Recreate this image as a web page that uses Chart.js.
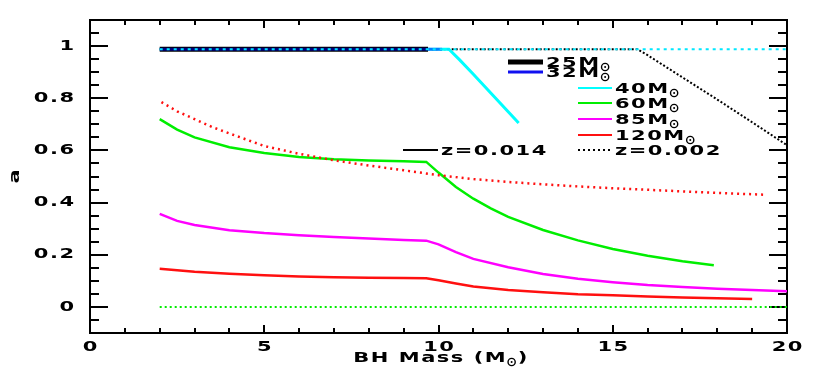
<!DOCTYPE html>
<html>
<head>
<meta charset="utf-8">
<script src="https://cdn.jsdelivr.net/npm/chart.js"></script>
<style>
  body { margin: 0; background: #fff; }
</style>
</head>
<body>
<canvas id="spinChart" width="830" height="374"></canvas>
<script>
// BH mass (Msun) vs spin a
const mass25Solid = [2, 9.7];
const spin25Solid = [0.988, 0.988];
const mass32Solid = [2, 10.1];
const spin32Solid = [0.988, 0.988];
const mass40Solid = [2, 10.3, 10.6, 11, 11.5, 12, 12.3];
const spin40Solid = [0.988, 0.988, 0.948, 0.892, 0.82, 0.748, 0.705];
const mass60Solid = [2, 2.5, 3, 4, 5, 6, 7, 8, 9, 9.65, 10, 10.5, 11, 11.5, 12, 13, 14, 15, 16, 17, 17.9];
const spin60Solid = [0.72, 0.68, 0.65, 0.612, 0.59, 0.575, 0.566, 0.561, 0.558, 0.556, 0.515, 0.46, 0.415, 0.378, 0.345, 0.295, 0.255, 0.222, 0.196, 0.175, 0.16];
const mass85Solid = [2, 2.5, 3, 4, 5, 6, 7, 8, 9, 9.65, 10, 10.5, 11, 12, 13, 14, 15, 16, 17, 18, 19, 20];
const spin85Solid = [0.357, 0.33, 0.314, 0.294, 0.283, 0.275, 0.268, 0.262, 0.257, 0.254, 0.24, 0.21, 0.184, 0.152, 0.126, 0.108, 0.095, 0.084, 0.076, 0.07, 0.065, 0.06];
const mass120Solid = [2, 3, 4, 5, 6, 7, 8, 9, 9.65, 10, 10.5, 11, 12, 13, 14, 15, 16, 17, 18, 19];
const spin120Solid = [0.146, 0.135, 0.127, 0.121, 0.117, 0.114, 0.112, 0.111, 0.11, 0.102, 0.09, 0.078, 0.065, 0.056, 0.049, 0.045, 0.04, 0.036, 0.033, 0.03];

const mass25Dotted = [2, 15.7, 16, 17, 18, 19, 20];
const spin25Dotted = [0.988, 0.988, 0.965, 0.88, 0.795, 0.708, 0.62];
const mass40Dotted = [2, 20];
const spin40Dotted = [0.988, 0.988];
const mass60Dotted = [2, 20];
const spin60Dotted = [0, 0];
const mass120Dotted = [2.05, 2.5, 3, 3.5, 4, 5, 6, 7, 8, 9, 10, 11, 12, 13, 14, 15, 16, 17, 18, 19, 19.4];
const spin120Dotted = [0.785, 0.75, 0.72, 0.69, 0.665, 0.617, 0.587, 0.562, 0.542, 0.524, 0.505, 0.49, 0.479, 0.47, 0.462, 0.455, 0.449, 0.443, 0.437, 0.432, 0.43];

const massLabels = ['25M', '32M', '40M', '60M', '85M', '120M'];
const metalLabels = ['z=0.014', 'z=0.002'];
const xTickValues = [0, 5, 10, 15, 20];
const yTickValues = [0, 0.2, 0.4, 0.6, 0.8, 1];
const xMinorValues = [1, 2, 3, 4, 6, 7, 8, 9, 11, 12, 13, 14, 16, 17, 18, 19];
const yMinorValues = [-0.05, 0.05, 0.1, 0.15, 0.25, 0.3, 0.35, 0.45, 0.5, 0.55, 0.65, 0.7, 0.75, 0.85, 0.9, 0.95, 1.05];
const xTitle = 'BH Mass (M';
const yTitle = 'a';

const FONT = '"DejaVu Sans", sans-serif';
const SX = 1.5;   // the original lettering is wide
const SPACING = 1;

function pts(xs, ys) {
  return xs.map((x, i) => ({ x: x, y: ys[i] }));
}

function line(data, color, width, dash) {
  return {
    data: data,
    xAxisID: 'x',
    yAxisID: 'y',
    borderColor: color,
    borderWidth: width,
    borderDash: dash || [],
    pointRadius: 0,
    tension: 0,
    fill: false
  };
}

// first dataset ends up on top
const datasets = [
  line(pts(mass40Dotted, spin40Dotted), '#00e8ff', 2, [3, 4]),
  line(pts(mass32Solid, spin32Solid), 'rgba(0,0,255,0.5)', 3),
  line(pts(mass25Solid, spin25Solid), '#000000', 5),
  line(pts(mass40Solid, spin40Solid), '#00ffff', 3),
  line(pts(mass25Dotted, spin25Dotted), '#000000', 2, [2, 2]),
  line(pts(mass120Dotted, spin120Dotted), '#ff1010', 2.5, [2, 4]),
  line(pts(mass60Dotted, spin60Dotted), '#00ee00', 2, [2, 3]),
  line(pts(mass60Solid, spin60Solid), '#00ee00', 2.5),
  line(pts(mass85Solid, spin85Solid), '#ff00ff', 2.5),
  line(pts(mass120Solid, spin120Solid), '#ff1010', 2.5)
];

// wide bold lettering, returns drawn width
function wideText(ctx, text, x, y, align) {
  ctx.save();
  ctx.font = 'bold 14px ' + FONT;
  ctx.letterSpacing = SPACING + 'px';
  ctx.textAlign = 'left';
  ctx.textBaseline = 'middle';
  const w = (ctx.measureText(text).width - SPACING) * SX;
  const left = align === 'right' ? x - w : align === 'center' ? x - w / 2 : x;
  ctx.translate(left, y);
  ctx.scale(SX, 1);
  ctx.fillStyle = '#000';
  ctx.fillText(text, 0, 0);
  ctx.restore();
  return w;
}

function drawSun(ctx, x, y) {
  ctx.save();
  ctx.strokeStyle = '#000';
  ctx.fillStyle = '#000';
  ctx.lineWidth = 1.4;
  ctx.setLineDash([]);
  ctx.beginPath();
  ctx.arc(x, y, 3.6, 0, Math.PI * 2);
  ctx.stroke();
  ctx.beginPath();
  ctx.arc(x, y, 1, 0, Math.PI * 2);
  ctx.fill();
  ctx.restore();
}

const legendRows = [
  { text: massLabels[0], color: '#000', width: 5, x0: 508, x1: 543, y: 62, sun: true },
  { text: massLabels[1], color: '#1010f0', width: 3, x0: 508, x1: 543, y: 72, sun: true },
  { text: massLabels[2], color: '#00ffff', width: 2, x0: 578, x1: 612, y: 88, sun: true },
  { text: massLabels[3], color: '#00ee00', width: 2, x0: 578, x1: 612, y: 103, sun: true },
  { text: massLabels[4], color: '#ff00ff', width: 2, x0: 578, x1: 612, y: 119, sun: true },
  { text: massLabels[5], color: '#ff1010', width: 2, x0: 578, x1: 612, y: 135, sun: true },
  { text: metalLabels[0], color: '#000', width: 2, x0: 403, x1: 438, y: 150 },
  { text: metalLabels[1], color: '#000', width: 2, dash: [2, 3], x0: 578, x1: 612, y: 150 }
];

const axisLabels = {
  id: 'axisLabels',
  afterDraw(chart) {
    const ctx = chart.ctx;
    const a = chart.chartArea;
    const xs = chart.scales.x;
    const ys = chart.scales.y;
    xTickValues.forEach(v => {
      wideText(ctx, String(v), xs.getPixelForValue(v), a.bottom + 14, 'center');
    });
    yTickValues.forEach(v => {
      wideText(ctx, String(v), 74, ys.getPixelForValue(v), 'right');
    });
    const tw = wideText(ctx, xTitle, 0, -100, 'left');
    const tx = (a.left + a.right) / 2 - (tw + 18) / 2;
    wideText(ctx, xTitle, tx, 358, 'left');
    drawSun(ctx, tx + tw + 6, 362);
    wideText(ctx, ')', tx + tw + 12, 358, 'left');
    ctx.save();
    ctx.translate(15, (a.top + a.bottom) / 2);
    ctx.rotate(-Math.PI / 2);
    wideText(ctx, yTitle, 0, 0, 'center');
    ctx.restore();
  }
};

const legendPlugin = {
  id: 'panelLegend',
  afterDraw(chart) {
    const ctx = chart.ctx;
    legendRows.forEach(r => {
      ctx.save();
      ctx.beginPath();
      ctx.strokeStyle = r.color;
      ctx.lineWidth = r.width;
      ctx.setLineDash(r.dash || []);
      ctx.moveTo(r.x0, r.y);
      ctx.lineTo(r.x1, r.y);
      ctx.stroke();
      ctx.restore();
      const tx = r.x1 + 3;
      const w = wideText(ctx, r.text, tx, r.y + 1, 'left');
      if (r.sun) drawSun(ctx, tx + w + 6, r.y + 5);
    });
  }
};

// one axis per side and tick size; negative tick length points the ticks inward
function tickAxis(axis, position, values, len, weight, size, border) {
  return {
    type: 'linear',
    axis: axis,
    position: position,
    weight: weight,
    min: axis === 'x' ? 0 : -0.1,
    max: axis === 'x' ? 20 : 1.1,
    afterBuildTicks: s => { s.ticks = values.map(v => ({ value: v })); },
    afterFit: s => { if (axis === 'x') s.height = size; else s.width = size; },
    grid: { drawOnChartArea: false, drawTicks: true, tickLength: -len, color: '#000', lineWidth: 2 },
    border: { display: border, color: '#000', width: 2 },
    ticks: { display: false }
  };
}

new Chart(document.getElementById('spinChart'), {
  type: 'line',
  data: { datasets: datasets },
  options: {
    responsive: false,
    animation: false,
    layout: { padding: { left: 0, right: 43, top: 20, bottom: 0 } },
    plugins: { legend: { display: false }, tooltip: { enabled: false } },
    scales: {
      x: tickAxis('x', 'bottom', xTickValues, 8, 0, 41, true),
      y: tickAxis('y', 'left', yTickValues, 18, 0, 90, true),
      xMinor: tickAxis('x', 'bottom', xMinorValues, 5, -1, 0, false),
      yMinor: tickAxis('y', 'left', yMinorValues, 9, -1, 0, false),
      xTop: tickAxis('x', 'top', xTickValues, 8, 0, 0, true),
      xTopMinor: tickAxis('x', 'top', xMinorValues, 5, -1, 0, false),
      yRight: tickAxis('y', 'right', yTickValues, 18, 0, 0, true),
      yRightMinor: tickAxis('y', 'right', yMinorValues, 9, -1, 0, false)
    }
  },
  plugins: [axisLabels, legendPlugin]
});
</script>
</body>
</html>
